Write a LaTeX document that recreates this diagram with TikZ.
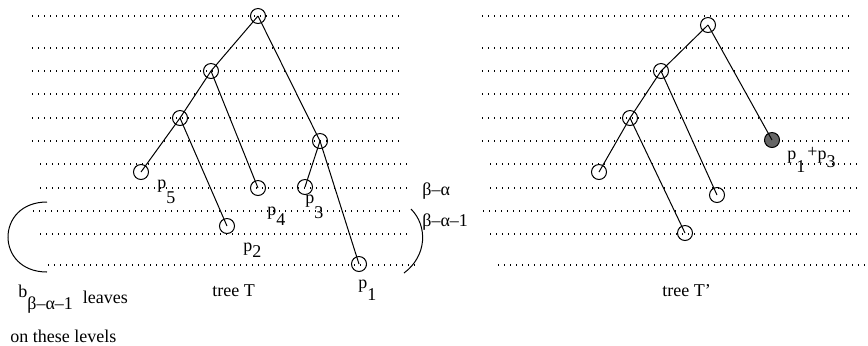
\documentclass[tikz,border=0pt]{standalone}
\usepackage{fontspec}
\setmainfont{Liberation Serif}
\tikzset{
  vertex/.style={draw,circle,line width=0.5pt,minimum size=7.5pt,inner sep=0pt},
  merged/.style={vertex,fill=black!60},
  level/.style={line width=0.7pt,dash pattern=on 0.7pt off 2.3pt},
  edge/.style={line width=0.5pt},
  tag/.style={anchor=base west,inner sep=0pt,font=\fontsize{9}{11}\selectfont}
}
\newcommand{\pp}[2][3pt]{p\raisebox{-#1}{#2}}

\begin{document}
\begin{tikzpicture}[x=0.5pt,y=-0.5pt]
\useasboundingbox (0,0) rectangle (868,345);
\foreach \y/\a in {16/32,48/32,71/32,94/32,118/32,141/32,164/40,188/40,211/33,234/40,265/48} {
  \draw[level] (\a,\y) -- ++(370,0);
  \draw[level] (\a+450,\y) -- ++(370,0);
}

\node[vertex] (t0) at (258,16) {};
\node[vertex] (t1) at (211,71) {};
\node[vertex] (t2) at (180,118) {};
\node[vertex] (t3) at (320,141) {};
\node[vertex] (t5) at (141,172) {};
\node[vertex] (t4) at (258,188) {};
\node[vertex] (tp3) at (305,187) {};
\node[vertex] (tp2) at (227,226) {};
\node[vertex] (tp1) at (359,264) {};
\draw[edge] (t0.center) -- (t1.center) -- (t2.center) -- (t5.center);
\draw[edge] (t0.center) -- (t3.center) -- (tp1.center);
\draw[edge] (t1.center) -- (t4.center);
\draw[edge] (t2.center) -- (tp2.center);
\draw[edge] (t3.center) -- (tp3.center);

\node[tag] (l5) at (157,188) {\pp[7.5pt]{5}};
\node[tag] (l4) at (267,215) {\pp[5pt]{4}};
\node[tag] (l3) at (305,203) {\pp[7.5pt]{3}};
\node[tag] (l2) at (243,251) {\pp[3pt]{2}};
\node[tag] (l1) at (358,288) {\pp[6pt]{1}};
\node[tag] (ba) at (422,195) {β–α};
\node[tag] (ba1) at (422,226) {β–α–1};
\draw[edge] (47,202) .. controls (-5,202) and (-5,272) .. (47,272);
\draw[edge] (411,209) .. controls (428,226) and (427,256) .. (404,273);
\node[tag] (lb) at (18,297) {b\raisebox{-6pt}{β–α–1}\hspace{5pt}\raisebox{-3pt}{leaves}};
\node[tag] (lv) at (10,342) {on these levels};
\node[tag] (tT) at (212,296) {tree T};

\node[vertex] (r0) at (708,25) {};
\node[vertex] (r1) at (661,71) {};
\node[vertex] (r2) at (630,118) {};
\node[merged] (rm) at (772,140) {};
\node[vertex] (ra) at (599,172) {};
\node[vertex] (rb) at (717,195) {};
\node[vertex] (rc) at (685,233) {};
\draw[edge] (r0.center) -- (r1.center) -- (r2.center) -- (ra.center);
\draw[edge] (r0.center) -- (rm.center);
\draw[edge] (r1.center) -- (rb.center);
\draw[edge] (r2.center) -- (rc.center);
\node[tag] (lm) at (787,159) {p\raisebox{-6.5pt}{1}\hspace{1pt}\raisebox{1pt}{+}p\raisebox{-4pt}{3}};
\node[tag] (tT2) at (662,296) {tree T’};
\end{tikzpicture}
\end{document}
